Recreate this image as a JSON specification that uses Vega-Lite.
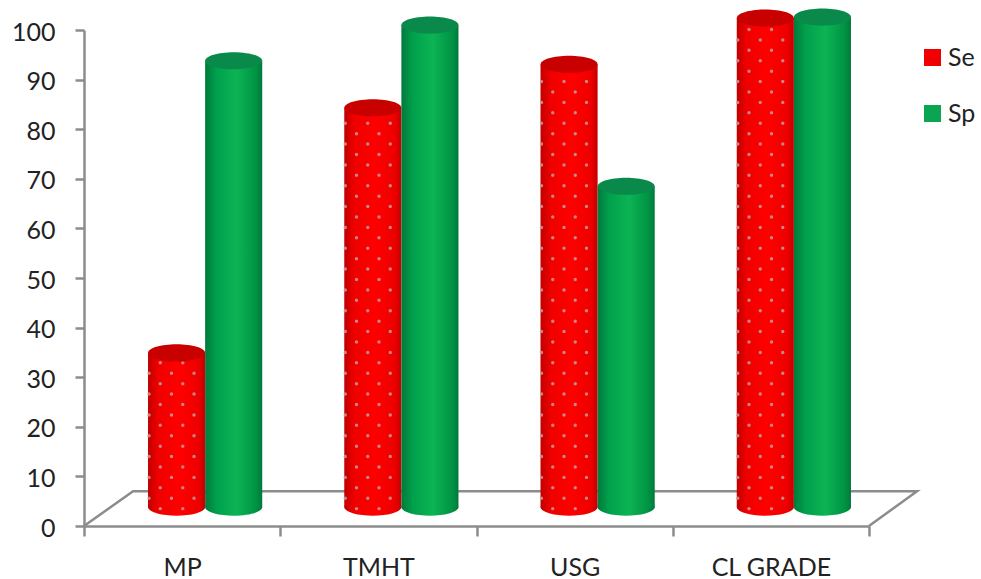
{
  "$schema": "https://vega.github.io/schema/vega-lite/v6.json",
  "width": 833,
  "height": 496,
  "autosize": "none",
  "padding": {"left": 84, "top": 30, "right": 64, "bottom": 53},
  "background": "white",
  "config": {
    "view": {"stroke": null},
    "font": "Lato",
    "axisY": {
      "title": null, "grid": false,
      "domainColor": "#8c8c8c", "domainWidth": 2.5,
      "tickColor": "#8c8c8c", "tickWidth": 2.5, "tickSize": 9,
      "labelFontSize": 25, "labelColor": "#222222", "labelPadding": 20, "labelFont": "Lato", "labelOffset": 2
    }
  },
  "datasets": {
    "bars": [
      {"cat": "MP", "series": "Se", "value": 34.9},
      {"cat": "MP", "series": "Sp", "value": 93.8},
      {"cat": "TMHT", "series": "Se", "value": 84.3},
      {"cat": "TMHT", "series": "Sp", "value": 101},
      {"cat": "USG", "series": "Se", "value": 93.1},
      {"cat": "USG", "series": "Sp", "value": 68.5},
      {"cat": "CL GRADE", "series": "Se", "value": 102.4},
      {"cat": "CL GRADE", "series": "Sp", "value": 102.6}
    ],
    "floor": [
      {"step": 0, "pos": 0, "level": 0},
      {"step": 1, "pos": 0.25, "level": 7},
      {"step": 2, "pos": 4.245, "level": 7},
      {"step": 3, "pos": 4, "level": 0}
    ],
    "dots": [
      {"cat": "MP", "cols": [1, 3], "levels": [3.5, 7.7, 11.9, 16.1, 20.3, 24.5, 28.7, 32.9]},
      {"cat": "MP", "cols": [0, 2, 4], "levels": [5.6, 9.8, 14, 18.2, 22.4, 26.6, 30.8]},
      {"cat": "TMHT", "cols": [1, 3], "levels": [3.5, 7.7, 11.9, 16.1, 20.3, 24.5, 28.7, 32.9, 37.1, 41.3, 45.5, 49.7, 53.9, 58.1, 62.3, 66.5, 70.7, 74.9, 79.1]},
      {"cat": "TMHT", "cols": [0, 2, 4], "levels": [5.6, 9.8, 14, 18.2, 22.4, 26.6, 30.8, 35, 39.2, 43.4, 47.6, 51.8, 56, 60.2, 64.4, 68.6, 72.8, 77, 81.2]},
      {"cat": "USG", "cols": [1, 3], "levels": [3.5, 7.7, 11.9, 16.1, 20.3, 24.5, 28.7, 32.9, 37.1, 41.3, 45.5, 49.7, 53.9, 58.1, 62.3, 66.5, 70.7, 74.9, 79.1, 83.3, 87.5]},
      {"cat": "USG", "cols": [0, 2, 4], "levels": [5.6, 9.8, 14, 18.2, 22.4, 26.6, 30.8, 35, 39.2, 43.4, 47.6, 51.8, 56, 60.2, 64.4, 68.6, 72.8, 77, 81.2, 85.4, 89.6]},
      {"cat": "CL GRADE", "cols": [1, 3], "levels": [3.5, 7.7, 11.9, 16.1, 20.3, 24.5, 28.7, 32.9, 37.1, 41.3, 45.5, 49.7, 53.9, 58.1, 62.3, 66.5, 70.7, 74.9, 79.1, 83.3, 87.5, 91.7, 95.9, 100.1]},
      {"cat": "CL GRADE", "cols": [0, 2, 4], "levels": [5.6, 9.8, 14, 18.2, 22.4, 26.6, 30.8, 35, 39.2, 43.4, 47.6, 51.8, 56, 60.2, 64.4, 68.6, 72.8, 77, 81.2, 85.4, 89.6, 93.8, 98]}
    ]
  },
  "resolve": {"scale": {"x": "independent", "xOffset": "independent", "color": "independent"}, "axis": {"x": "independent"}},
  "layer": [
    {
      "data": {"name": "floor"},
      "mark": {"type": "line", "stroke": "#8c8c8c", "strokeWidth": 2.5, "interpolate": "linear"},
      "encoding": {
        "x": {"field": "pos", "type": "quantitative", "axis": null, "scale": {"domain": [0, 4.245], "range": [0, 833]}},
        "y": {
          "field": "level", "type": "quantitative",
          "scale": {"domain": [0, 100], "nice": false},
          "axis": {"values": [0, 10, 20, 30, 40, 50, 60, 70, 80, 90, 100]}
        },
        "order": {"field": "step", "type": "quantitative"}
      }
    },
    {
      "data": {"name": "bars"},
      "mark": {"type": "rule", "opacity": 0},
      "encoding": {
        "x": {
          "field": "cat", "type": "nominal",
          "scale": {"domain": ["MP", "TMHT", "USG", "CL GRADE"], "range": [0, 785], "paddingInner": 0, "paddingOuter": 0},
          "axis": {
            "title": null, "tickBand": "extent", "labelAngle": 0,
            "domainColor": "#8c8c8c", "domainWidth": 2.5,
            "tickColor": "#8c8c8c", "tickWidth": 2.5, "tickSize": 10,
            "labelFontSize": 25, "labelColor": "#222222", "labelPadding": 19, "labelFont": "Lato"
          }
        }
      }
    },
    {
      "data": {"name": "bars"},
      "transform": [{"filter": "datum.series === 'Se'"}],
      "encoding": {
        "x": {
          "field": "cat", "type": "nominal", "axis": null,
          "scale": {"domain": ["MP", "TMHT", "USG", "CL GRADE"], "range": [23, 808], "paddingInner": 0.418, "paddingOuter": 0.209}
        },
        "xOffset": {"field": "series", "type": "nominal", "scale": {"type": "band", "domain": ["Se", "Sp"], "paddingInner": 0, "paddingOuter": 0}}
      },
      "layer": [
        {
          "mark": {
            "type": "point", "filled": true, "size": 3249, "opacity": 1,
            "shape": "M-1,0A1,0.3 0 1 0 1,0A1,0.3 0 1 0 -1,0Z",
            "fill": {"gradient": "linear", "x1": 0, "x2": 1, "y1": 0, "y2": 0, "stops": [
              {"offset": 0, "color": "#c00000"}, {"offset": 0.18, "color": "#f00000"},
              {"offset": 0.55, "color": "#ff0000"}, {"offset": 0.88, "color": "#ee0000"}, {"offset": 1, "color": "#c40000"}
            ]}
          },
          "encoding": {"y": {"datum": 3.8, "scale": {"domain": [0, 100], "nice": false}}}
        },
        {
          "mark": {
            "type": "bar",
            "fill": {"gradient": "linear", "x1": 0, "x2": 1, "y1": 0, "y2": 0, "stops": [
              {"offset": 0, "color": "#c00000"}, {"offset": 0.18, "color": "#f00000"},
              {"offset": 0.55, "color": "#ff0000"}, {"offset": 0.88, "color": "#ee0000"}, {"offset": 1, "color": "#c40000"}
            ]}
          },
          "encoding": {
            "y": {"field": "value", "type": "quantitative", "scale": {"domain": [0, 100], "nice": false}},
            "y2": {"datum": 3.8}
          }
        }
      ]
    },
    {
      "data": {"name": "dots"},
      "transform": [{"flatten": ["cols"]}, {"flatten": ["levels"]}],
      "mark": {"type": "point", "filled": true, "size": 12, "shape": "circle", "fill": "#c49a9a", "opacity": 0.85},
      "encoding": {
        "x": {
          "field": "cat", "type": "nominal", "axis": null,
          "scale": {"domain": ["MP", "TMHT", "USG", "CL GRADE"], "range": [23, 808], "paddingInner": 0.418, "paddingOuter": 0.209}
        },
        "xOffset": {"field": "cols", "type": "quantitative", "scale": {"domain": [0, 4], "range": [1, 46]}},
        "y": {"field": "levels", "type": "quantitative", "scale": {"domain": [0, 100], "nice": false}}
      }
    },
    {
      "data": {"name": "bars"},
      "transform": [{"filter": "datum.series === 'Se'"}],
      "mark": {
        "type": "point", "filled": true, "size": 3249, "opacity": 1, "fill": "#c80000",
        "shape": "M-1,0A1,0.3 0 1 0 1,0A1,0.3 0 1 0 -1,0Z"
      },
      "encoding": {
        "x": {
          "field": "cat", "type": "nominal", "axis": null,
          "scale": {"domain": ["MP", "TMHT", "USG", "CL GRADE"], "range": [23, 808], "paddingInner": 0.418, "paddingOuter": 0.209}
        },
        "xOffset": {"field": "series", "type": "nominal", "scale": {"type": "band", "domain": ["Se", "Sp"], "paddingInner": 0, "paddingOuter": 0}},
        "y": {"field": "value", "type": "quantitative", "scale": {"domain": [0, 100], "nice": false}}
      }
    },
    {
      "data": {"name": "bars"},
      "transform": [{"filter": "datum.series === 'Sp'"}],
      "encoding": {
        "x": {
          "field": "cat", "type": "nominal", "axis": null,
          "scale": {"domain": ["MP", "TMHT", "USG", "CL GRADE"], "range": [23, 808], "paddingInner": 0.418, "paddingOuter": 0.209}
        },
        "xOffset": {"field": "series", "type": "nominal", "scale": {"type": "band", "domain": ["Se", "Sp"], "paddingInner": 0, "paddingOuter": 0}}
      },
      "layer": [
        {
          "mark": {
            "type": "point", "filled": true, "size": 3249, "opacity": 1,
            "shape": "M-1,0A1,0.3 0 1 0 1,0A1,0.3 0 1 0 -1,0Z",
            "fill": {"gradient": "linear", "x1": 0, "x2": 1, "y1": 0, "y2": 0, "stops": [
              {"offset": 0, "color": "#007a3c"}, {"offset": 0.2, "color": "#00a04c"},
              {"offset": 0.55, "color": "#0cb454"}, {"offset": 0.88, "color": "#009444"}, {"offset": 1, "color": "#007a3c"}
            ]}
          },
          "encoding": {"y": {"datum": 3.8, "scale": {"domain": [0, 100], "nice": false}}}
        },
        {
          "mark": {
            "type": "bar",
            "fill": {"gradient": "linear", "x1": 0, "x2": 1, "y1": 0, "y2": 0, "stops": [
              {"offset": 0, "color": "#007a3c"}, {"offset": 0.2, "color": "#00a04c"},
              {"offset": 0.55, "color": "#0cb454"}, {"offset": 0.88, "color": "#009444"}, {"offset": 1, "color": "#007a3c"}
            ]}
          },
          "encoding": {
            "y": {"field": "value", "type": "quantitative", "scale": {"domain": [0, 100], "nice": false}},
            "y2": {"datum": 3.8}
          }
        },
        {
          "mark": {
            "type": "point", "filled": true, "size": 3249, "opacity": 1, "fill": "#0a8a4a",
            "shape": "M-1,0A1,0.3 0 1 0 1,0A1,0.3 0 1 0 -1,0Z"
          },
          "encoding": {"y": {"field": "value", "type": "quantitative", "scale": {"domain": [0, 100], "nice": false}}}
        }
      ]
    },
    {
      "data": {"name": "bars"},
      "mark": {"type": "square", "size": 0},
      "encoding": {
        "color": {
          "field": "series", "type": "nominal",
          "scale": {"domain": ["Se", "Sp"], "range": ["#f00000", "#0aa550"]},
          "legend": {
            "orient": "none", "legendX": 836, "legendY": 15, "title": null, "padding": 0,
            "symbolType": "square", "symbolSize": 289, "symbolStrokeWidth": 0, "symbolOpacity": 1,
            "labelFontSize": 25, "labelColor": "#222222", "labelFont": "Lato",
            "rowPadding": 30, "labelOffset": 3
          }
        }
      }
    }
  ]
}
